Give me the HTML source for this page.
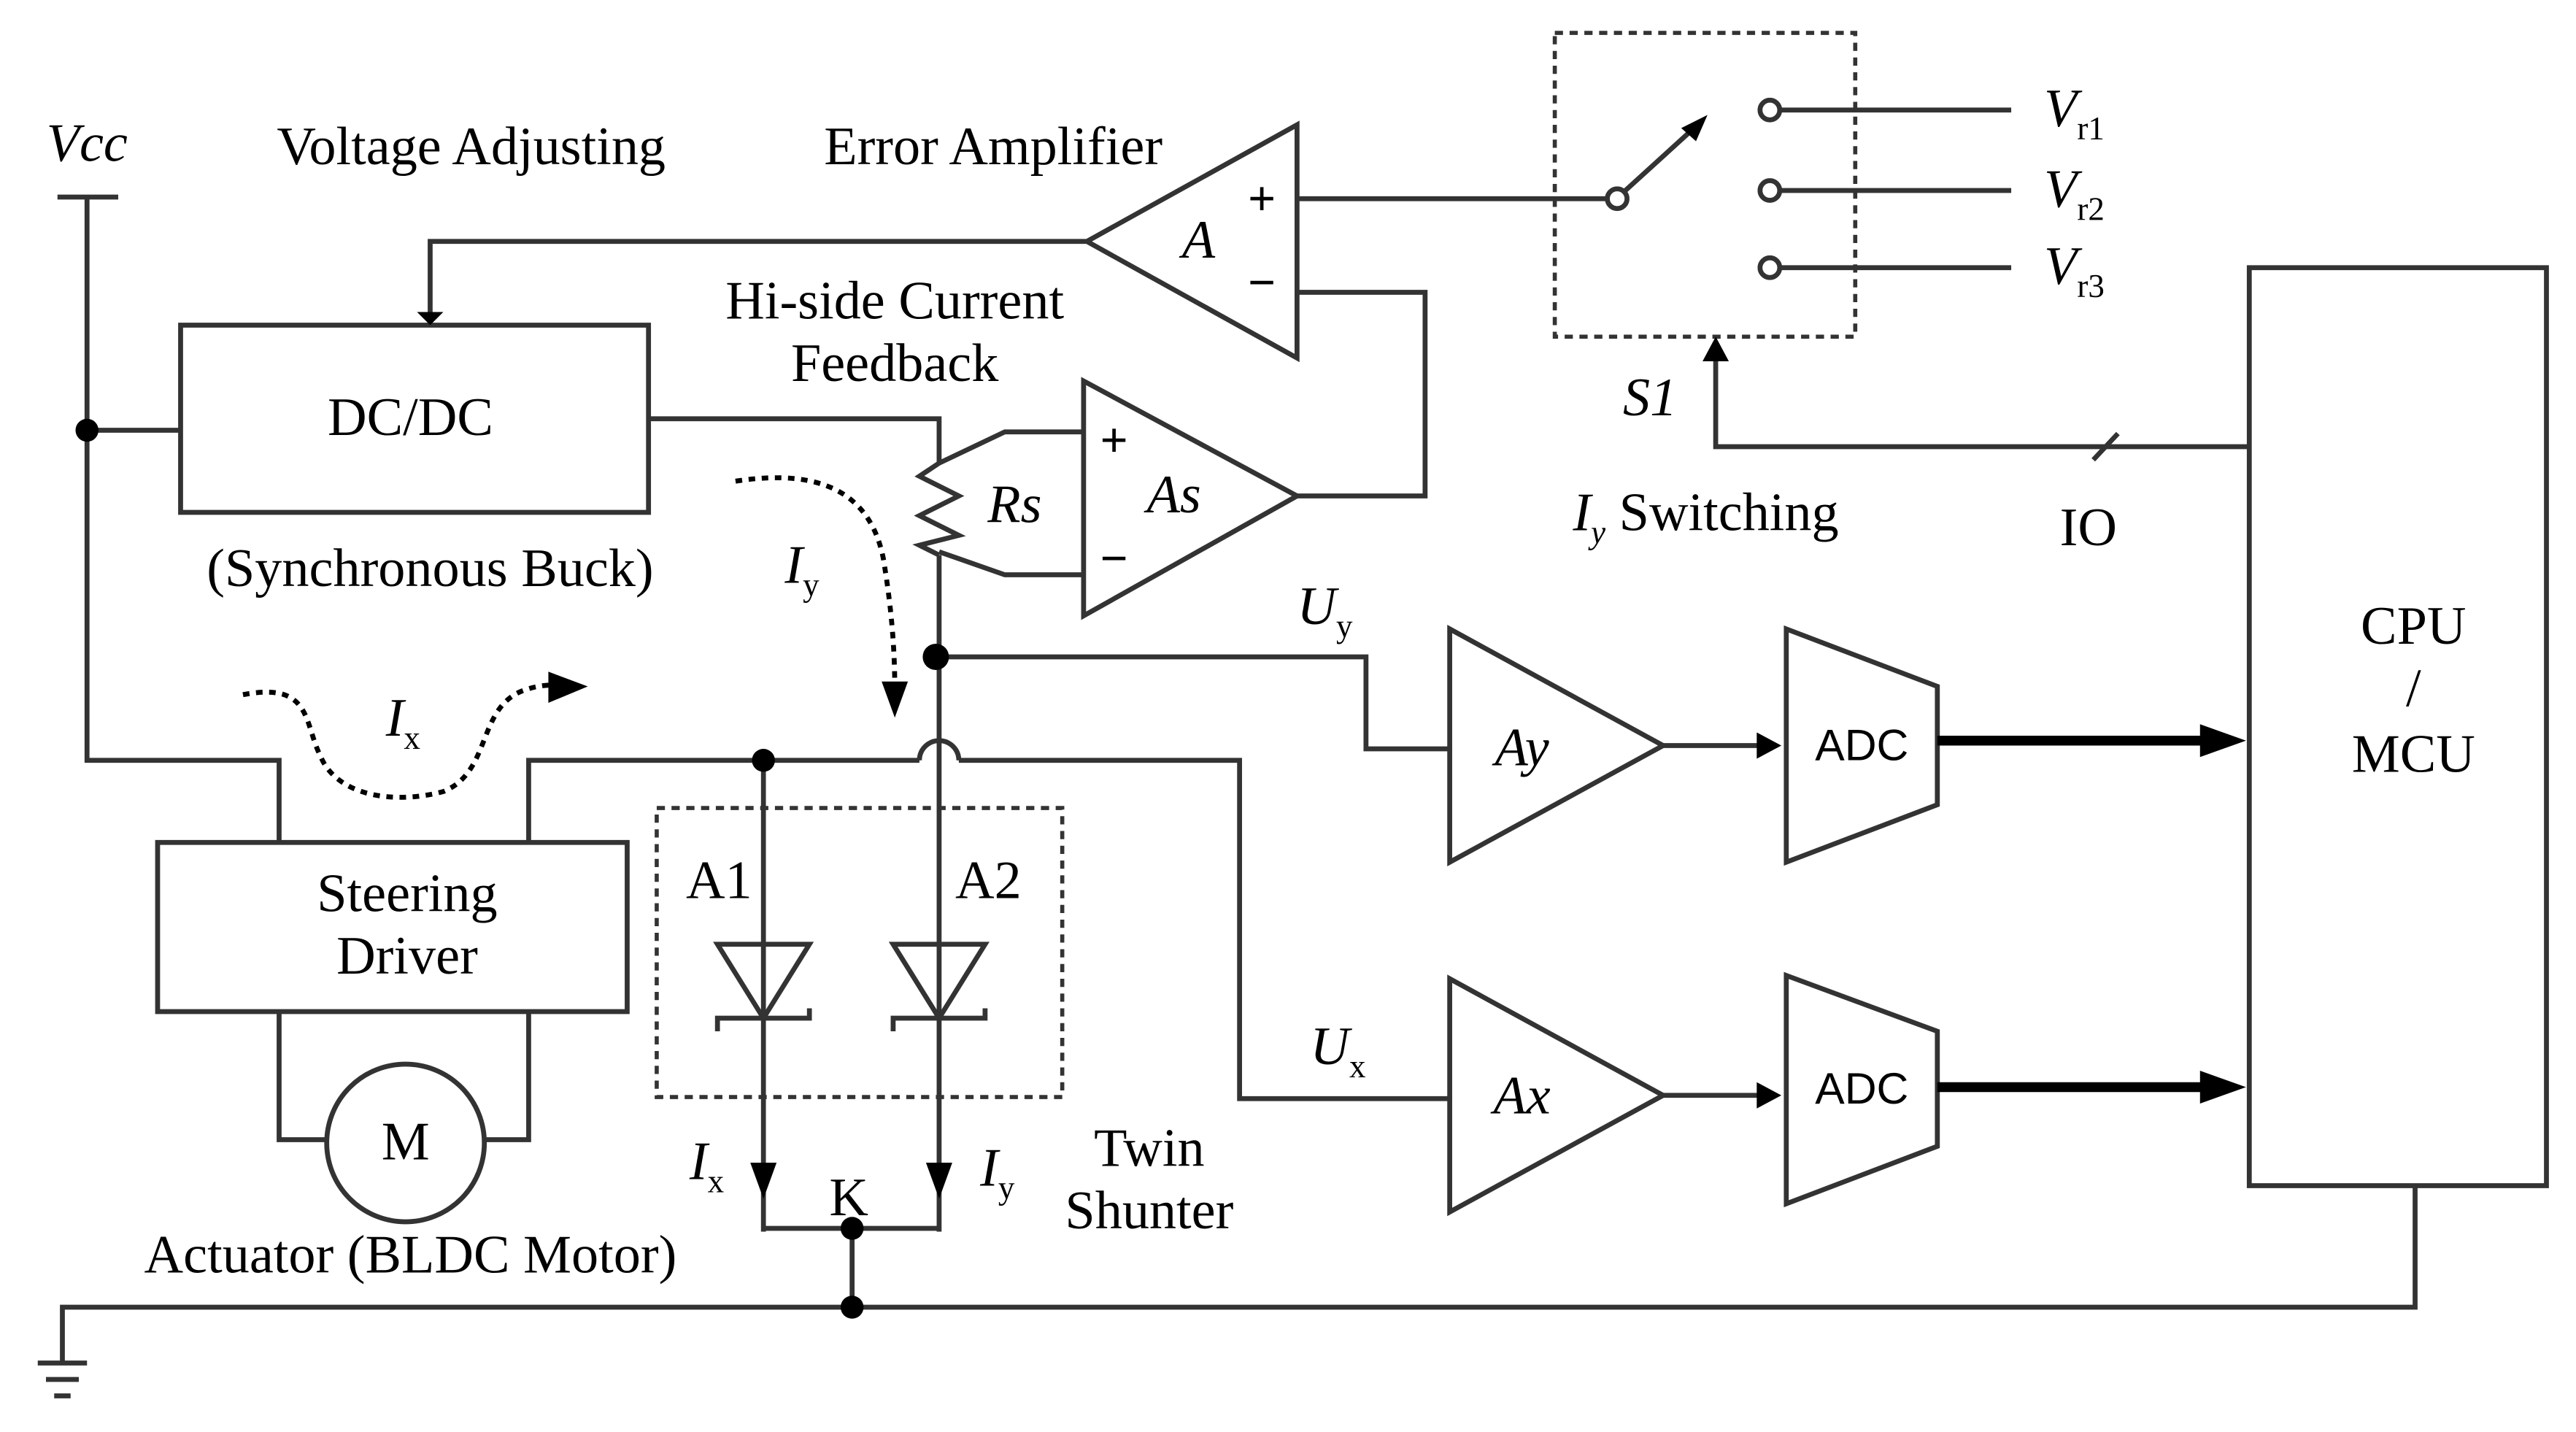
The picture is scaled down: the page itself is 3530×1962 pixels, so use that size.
<!DOCTYPE html>
<html><head><meta charset="utf-8"><style>
html,body{margin:0;padding:0;background:#fff}
svg{display:block}
text{font-family:"Liberation Serif",serif;fill:#000}
.s{font-family:"Liberation Sans",sans-serif}
</style></head><body>
<svg width="3530" height="1962" viewBox="0 0 1569 872" preserveAspectRatio="none" xmlns="http://www.w3.org/2000/svg">
<g fill="none" stroke="#333" stroke-width="3" stroke-linejoin="miter">
<line x1="35" y1="120" x2="72" y2="120"/>
<polyline points="53,120 53,463 170,463 170,513"/>
<line x1="53" y1="262" x2="110" y2="262"/>
<rect x="110" y="198" width="285" height="114"/>
<rect x="96" y="513" width="286" height="103"/>
<polyline points="322,513 322,463 560,463"/>
<path d="M560,463 A12,12 0 0 1 584,463"/>
<polyline points="584,463 755,463 755,669 883,669"/>
<polyline points="170,616 170,694 200,694"/>
<polyline points="295,694 322,694 322,616"/>
<circle cx="247" cy="696" r="48"/>
<polyline points="395,255 572,255 572,282"/>
<polyline points="572,282 560,290 584,302 560,314 584,326 560,332 572,338"/>
<line x1="572" y1="338" x2="572" y2="750"/>
<polyline points="572,282 612,263 660,263"/>
<polyline points="572,336 612,350 660,350"/>
<polygon points="660,232 660,375 790,302"/>
<polyline points="790,302 868,302 868,178 790,178"/>
<polygon points="790,76 790,218 662,147"/>
<polyline points="662,147 262,147 262,190"/>
<line x1="790" y1="121" x2="979" y2="121"/>
<circle cx="985" cy="121" r="6" fill="#fff"/>
<line x1="990" y1="116" x2="1034" y2="76"/>
<circle cx="1078" cy="67" r="6"/><circle cx="1078" cy="116" r="6"/><circle cx="1078" cy="163" r="6"/>
<line x1="1084" y1="67" x2="1225" y2="67"/>
<line x1="1084" y1="116" x2="1225" y2="116"/>
<line x1="1084" y1="163" x2="1225" y2="163"/>
<rect x="947" y="20" width="183" height="185" stroke-dasharray="5,4" stroke-width="2.5"/>
<polyline points="1370,272 1045,272 1045,218"/>
<line x1="1275" y1="280" x2="1290" y2="264"/>
<polyline points="572,400 832,400 832,456 883,456"/>
<polygon points="883,383 883,525 1013,454"/>
<line x1="1013" y1="454" x2="1075" y2="454"/>
<polygon points="1088,383 1180,418 1180,490 1088,525"/>
<polygon points="883,596 883,738 1013,667"/>
<line x1="1013" y1="667" x2="1075" y2="667"/>
<polygon points="1088,594 1180,628 1180,698 1088,733"/>
<line x1="1180" y1="451" x2="1345" y2="451" stroke-width="6" stroke="#000"/>
<line x1="1180" y1="662" x2="1345" y2="662" stroke-width="6" stroke="#000"/>
<rect x="1370" y="163" width="181" height="559"/>
<polyline points="1471,722 1471,796 38,796 38,830"/>
<line x1="23" y1="830" x2="53" y2="830"/>
<line x1="28" y1="840" x2="48" y2="840"/>
<line x1="33" y1="850" x2="43" y2="850"/>
<line x1="465" y1="463" x2="465" y2="750"/>
<polygon points="437,575 493,575 465,620"/>
<polyline points="437,628 437,620 493,620 493,614"/>
<polygon points="544,575 600,575 572,620"/>
<polyline points="544,628 544,620 600,620 600,614"/>
<rect x="400" y="492" width="247" height="176" stroke-dasharray="5,4" stroke-width="2.5"/>
<polyline points="465,748 572,748"/>
<line x1="519" y1="748" x2="519" y2="796"/>
<path d="M148,423 C190,415 185,440 195,460 C205,485 240,490 270,482 C300,470 290,430 320,420 C335,415 345,418 350,418" stroke-dasharray="4,4" stroke="#000"/>
<path d="M448,293 C500,285 530,300 538,340 C543,370 545,395 545,420" stroke-dasharray="4,4" stroke="#000"/>
</g>
<g fill="#000">
<polygon points="254,190 270,190 262,198"/>
<polygon points="1045,205 1037,220 1053,220"/>
<polygon points="1040,70 1024,78 1033,86"/>
<polygon points="1085,454 1070,446 1070,462"/>
<polygon points="1085,667 1070,659 1070,675"/>
<polygon points="1368,451 1340,441 1340,461"/>
<polygon points="1368,662 1340,652 1340,672"/>
<polygon points="358,418 334,409 334,428"/>
<polygon points="545,437 537,415 553,415"/>
<polygon points="465,730 457,708 473,708"/>
<polygon points="572,730 564,708 580,708"/>
<circle cx="53" cy="262" r="7"/>
<circle cx="465" cy="463" r="7"/>
<circle cx="570" cy="400" r="8"/>
<circle cx="519" cy="748" r="7"/>
<circle cx="519" cy="796" r="7"/>
</g>
<g font-size="33" text-anchor="middle">
<text x="53" y="98" font-style="italic">Vcc</text>
<text x="287" y="100">Voltage Adjusting</text>
<text x="605" y="100">Error Amplifier</text>
<text x="545" y="194">Hi-side Current</text>
<text x="545" y="232">Feedback</text>
<text x="250" y="265">DC/DC</text>
<text x="262" y="357">(Synchronous Buck)</text>
<text x="248" y="555">Steering</text>
<text x="248" y="593">Driver</text>
<text x="247" y="706">M</text>
<text x="250" y="775">Actuator (BLDC Motor)</text>
<text x="438" y="547">A1</text>
<text x="602" y="547">A2</text>
<text x="517" y="740">K</text>
<text x="700" y="710">Twin</text>
<text x="700" y="748">Shunter</text>
<text x="618" y="318" font-style="italic">Rs</text>
<text x="715" y="312" font-style="italic">As</text>
<text x="730" y="157" font-style="italic">A</text>
<text x="927" y="466" font-style="italic">Ay</text>
<text x="927" y="678" font-style="italic">Ax</text>
<text x="1005" y="253" font-style="italic">S1</text>
<text x="1272" y="332">IO</text>
<text x="1470" y="392">CPU</text>
<text x="1470" y="430">/</text>
<text x="1470" y="470">MCU</text>
</g>
<g font-size="33">
<text x="235" y="448" font-style="italic">I<tspan font-size="20" font-style="normal" dy="8">x</tspan></text>
<text x="478" y="355" font-style="italic">I<tspan font-size="20" font-style="normal" dy="8">y</tspan></text>
<text x="420" y="718" font-style="italic">I<tspan font-size="20" font-style="normal" dy="8">x</tspan></text>
<text x="597" y="722" font-style="italic">I<tspan font-size="20" font-style="normal" dy="8">y</tspan></text>
<text x="790" y="380" font-style="italic">U<tspan font-size="20" font-style="normal" dy="8">y</tspan></text>
<text x="798" y="648" font-style="italic">U<tspan font-size="20" font-style="normal" dy="8">x</tspan></text>
<text x="958" y="323"><tspan font-style="italic">I</tspan><tspan font-size="20" font-style="italic" dy="8">y</tspan><tspan dy="-8"> Switching</tspan></text>
<text x="1245" y="77" font-style="italic">V<tspan font-size="20" font-style="normal" dy="8">r1</tspan></text>
<text x="1245" y="126" font-style="italic">V<tspan font-size="20" font-style="normal" dy="8">r2</tspan></text>
<text x="1245" y="173" font-style="italic">V<tspan font-size="20" font-style="normal" dy="8">r3</tspan></text>
</g>
<g font-size="30" font-weight="bold" fill="#000" font-family="Liberation Sans,sans-serif">
<text x="760" y="131">+</text><text x="760" y="182">−</text>
<text x="670" y="278">+</text><text x="670" y="350">−</text>
</g>
<g font-size="27" text-anchor="middle">
<text class="s" x="1134" y="463">ADC</text>
<text class="s" x="1134" y="672">ADC</text>
</g>
</svg>
</body></html>
